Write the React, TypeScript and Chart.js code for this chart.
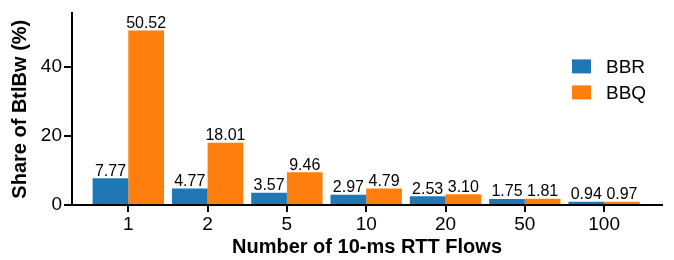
import React, { useEffect, useRef } from "react";
import { Chart, registerables } from "chart.js";

Chart.register(...registerables);

const categories = ["1", "2", "5", "10", "20", "50", "100"];
const bbrValues = [7.77, 4.77, 3.57, 2.97, 2.53, 1.75, 0.94];
const bbqValues = [50.52, 18.01, 9.46, 4.79, 3.1, 1.81, 0.97];
const seriesNames = ["BBR", "BBQ"];
const seriesColors = ["#1f77b4", "#ff7f0e"];
const yTicks = [0, 20, 40];

const FONT = "'Liberation Sans', Arial, Helvetica, sans-serif";

const valueLabelPlugin = {
  id: "valueLabels",
  afterDatasetsDraw(chart: any) {
    const ctx = chart.ctx;
    ctx.save();
    ctx.font = `16px ${FONT}`;
    ctx.fillStyle = "#000";
    ctx.textAlign = "center";
    ctx.textBaseline = "alphabetic";
    chart.data.datasets.forEach((ds: any, di: number) => {
      const meta = chart.getDatasetMeta(di);
      meta.data.forEach((el: any, i: number) => {
        const v = ds.data[i].y;
        ctx.fillText(v.toFixed(2), el.x, el.y - 2.5);
      });
    });
    ctx.restore();
  },
};

const legendPlugin = {
  id: "customLegend",
  afterDraw(chart: any) {
    const ctx = chart.ctx;
    const area = chart.chartArea;
    ctx.save();
    ctx.font = `19px ${FONT}`;
    ctx.textAlign = "left";
    ctx.textBaseline = "alphabetic";
    chart.data.datasets.forEach((ds: any, i: number) => {
      const x = area.right - 90;
      const y = area.top + 46 + i * 26;
      ctx.fillStyle = ds.backgroundColor;
      ctx.fillRect(x, y, 19, 14);
      ctx.fillStyle = "#000";
      ctx.fillText(ds.label, x + 34, y + 13.5);
    });
    ctx.restore();
  },
};

export default function App() {
  const ref = useRef<HTMLCanvasElement>(null);
  useEffect(() => {
    document.body.style.margin = "0";
    const canvas = ref.current!;
    const chart = new Chart(canvas, {
      type: "bar",
      data: {
        datasets: [bbrValues, bbqValues].map((vals, si) => ({
          label: seriesNames[si],
          data: vals.map((v, i) => ({ x: i, y: v })),
          backgroundColor: seriesColors[si],
          borderWidth: 0,
          barPercentage: 1,
          categoryPercentage: 0.9,
        })),
      },
      options: {
        responsive: false,
        animation: false,
        devicePixelRatio: 1,
        layout: { padding: { left: 0, right: 12, top: 8, bottom: 0 } },
        plugins: {
          legend: { display: false },
          tooltip: { enabled: false },
        },
        scales: {
          x: {
            type: "linear",
            offset: false,
            min: -0.71,
            max: 6.73,
            afterBuildTicks: (scale: any) => {
              scale.ticks = categories.map((_, i) => ({ value: i }));
            },
            afterFit: (scale: any) => {
              scale.height = 55;
            },
            ticks: {
              callback: (v: any) => categories[v as number],
              font: { family: FONT, size: 19 },
              color: "#000",
              padding: 1,
              maxRotation: 0,
              autoSkip: false,
            },
            grid: {
              offset: false,
              drawOnChartArea: false,
              drawTicks: true,
              tickLength: 7,
              color: "#000",
              lineWidth: 2,
            },
            border: { display: true, color: "#000", width: 2 },
            title: {
              display: true,
              text: "Number of 10-ms RTT Flows",
              font: { family: FONT, size: 20, weight: "bold" },
              color: "#000",
              padding: { top: 0, bottom: 1 },
            },
          },
          y: {
            type: "linear",
            min: 0,
            max: 55.5,
            afterBuildTicks: (scale: any) => {
              scale.ticks = yTicks.map((v) => ({ value: v }));
            },
            afterFit: (scale: any) => {
              scale.width = 72;
            },
            ticks: {
              font: { family: FONT, size: 19 },
              color: "#000",
              padding: 2,
            },
            grid: {
              drawOnChartArea: false,
              drawTicks: true,
              tickLength: 8,
              color: "#000",
              lineWidth: 2,
            },
            border: { display: true, color: "#000", width: 2 },
            title: {
              display: true,
              text: "Share of BtlBw (%)",
              font: { family: FONT, size: 20, weight: "bold" },
              color: "#000",
              padding: { top: 8, bottom: 0 },
            },
          },
        },
      },
      plugins: [valueLabelPlugin, legendPlugin],
    } as any);
    return () => chart.destroy();
  }, []);
  return (
    <div style={{ width: 674, height: 260 }}>
      <canvas ref={ref} width={674} height={260} style={{ display: "block" }} />
    </div>
  );
}
